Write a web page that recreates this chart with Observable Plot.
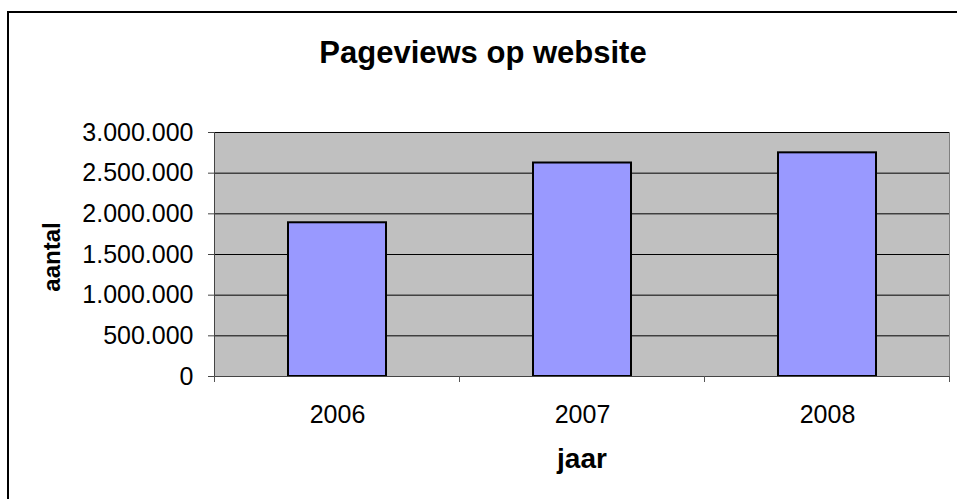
<!DOCTYPE html>
<html><head><meta charset="utf-8">
<script src="https://cdn.jsdelivr.net/npm/d3@7"></script>
<script src="https://cdn.jsdelivr.net/npm/@observablehq/plot@0.6"></script>
<style>
body{margin:0;background:#fff;}
#wrap{position:relative;width:957px;height:499px;overflow:hidden;}
#border{position:absolute;left:7px;top:11px;width:1200px;height:1200px;border:2px solid #000;box-sizing:border-box;}
#chart{position:absolute;left:0;top:0;}
</style></head>
<body>
<div id="wrap"><div id="border"></div><div id="chart"></div></div>
<script>
const years = ["2006", "2007", "2008"];
const pageviews = [1890000, 2625000, 2750000];
const yTicks = [0, 500000, 1000000, 1500000, 2000000, 2500000, 3000000];
const titleText = "Pageviews op website";
const xLabel = "jaar";
const yLabel = "aantal";

const data = years.map((year, i) => ({year, pageviews: pageviews[i]}));
const nl = d3.formatLocale({decimal: ",", thousands: ".", grouping: [3], currency: ["€", ""]});
const fmt = nl.format(",");
const font = "'Liberation Sans', Arial, sans-serif";

const plot = Plot.plot({
  width: 957, height: 499,
  marginLeft: 214, marginRight: 8, marginTop: 132, marginBottom: 123,
  style: {fontFamily: font, fontSize: "25px", color: "#000", background: "transparent", overflow: "visible"},
  x: {domain: years, paddingInner: 0.6, paddingOuter: 0.3, label: null},
  y: {domain: [0, 3000000], label: null},
  marks: [
    Plot.frame({fill: "#C0C0C0", stroke: "#808080"}),
    Plot.gridY(yTicks, {stroke: "#000", strokeOpacity: 1}),
    Plot.barY(data, {x: "year", y: "pageviews", fill: "#9999FF", stroke: "#000", strokeWidth: 2}),
    Plot.frame({anchor: "left", stroke: "#444"}),
    Plot.ruleY([0], {stroke: "#444"}),
    Plot.axisY(yTicks, {tickFormat: fmt, tickSize: 6, tickPadding: 15, label: null, stroke: "#444", fill: "#000"}),
    Plot.axisX({tickSize: 0, tickPadding: 29, label: null, fill: "#000"})
  ]
});
document.getElementById("chart").appendChild(plot);

const svg = d3.select(plot);
const xs = plot.scale("x");
const gap = (xs.step - xs.bandwidth) / 2;
const bounds = years.map(y => xs.apply(y) - gap).concat([xs.apply(years[years.length - 1]) + xs.bandwidth + gap]);
const yBase = plot.scale("y").apply(0);
svg.append("g").selectAll("line").data(bounds).join("line")
  .attr("x1", d => d).attr("x2", d => d)
  .attr("y1", yBase).attr("y2", yBase + 6)
  .attr("stroke", "#555");

svg.append("text").text(titleText)
  .attr("x", 483).attr("y", 63).attr("text-anchor", "middle")
  .attr("font-family", font).attr("font-weight", "bold").attr("font-size", 31).attr("fill", "#000");
svg.append("text").text(xLabel)
  .attr("x", 582).attr("y", 468).attr("text-anchor", "middle")
  .attr("font-family", font).attr("font-weight", "bold").attr("font-size", 28).attr("fill", "#000");
svg.append("text").text(yLabel)
  .attr("transform", "translate(60,257) rotate(-90)").attr("text-anchor", "middle")
  .attr("font-family", font).attr("font-weight", "bold").attr("font-size", 24).attr("fill", "#000");
</script>
</body></html>
